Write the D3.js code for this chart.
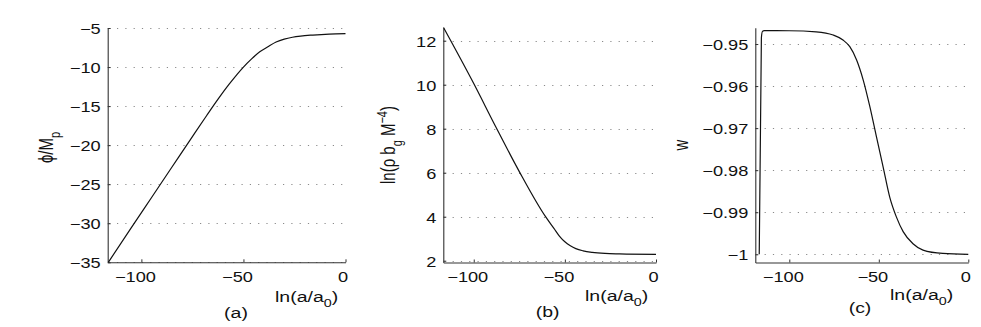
<!DOCTYPE html>
<html>
<head>
<meta charset="utf-8">
<script src="https://cdn.jsdelivr.net/npm/d3@7"></script>
<style>
  html, body { margin: 0; padding: 0; background: #fff; }
  svg { display: block; }
  text { font-family: "Liberation Sans", Arial, Helvetica, sans-serif; fill: #111; }
</style>
</head>
<body>
<svg id="chart" width="981" height="327"></svg>
<script>
// ---------- data ----------
const xTicks = [-100, -50, 0];
const xTickLabels = ["\u2212100", "\u221250", "0"];

// (a) phi / M_p vs ln(a/a0)
const lnA_a = [-116.2, -105, -95, -85, -75, -68, -62, -57, -53, -50, -46, -42, -38, -34, -30, -26, -22, -16, -8, 0];
const phi   = [-35, -30.6, -26.7, -22.8, -18.9, -16.2, -13.95, -12.2, -10.9, -10.0, -8.95, -8.05, -7.4, -6.8, -6.42, -6.18, -6.03, -5.9, -5.78, -5.73];
const yTicksA = [-35, -30, -25, -20, -15, -10, -5];
const yTickLabelsA = ["\u221235", "\u221230", "\u221225", "\u221220", "\u221215", "\u221210", "\u22125"];

// (b) ln(rho b_g M^-4) vs ln(a/a0)
const lnA_b = [-116.6, -100, -88, -75, -60.6, -56, -53, -50, -47, -44, -40, -35, -28, -20, 0];
const lnRho = [12.6, 10.05, 8.1, 6.05, 4.0, 3.47, 3.12, 2.86, 2.68, 2.55, 2.45, 2.38, 2.33, 2.31, 2.29];
const yTicksB = [2, 4, 6, 8, 10, 12];
const yTickLabelsB = ["2", "4", "6", "8", "10", "12"];

// (c) w vs ln(a/a0)
const lnA_c = [-116.8, -115.6, -115.0, -114.0, -100, -85, -75.5, -70, -66.2, -62.4, -58.7, -55, -51.3, -47.6, -43.9, -40.2, -36.4, -30.9, -25.3, -14.2, 0];
const wVals = [-1.0, -0.9485, -0.9470, -0.94683, -0.94685, -0.9471, -0.94786, -0.94905, -0.95064, -0.9538, -0.95857, -0.9649, -0.9721, -0.9792, -0.9864, -0.9911, -0.9946, -0.9975, -0.999, -0.9998, -1.0];
const yTicksC = [-1, -0.99, -0.98, -0.97, -0.96, -0.95];
const yTickLabelsC = ["\u22121", "\u22120.99", "\u22120.98", "\u22120.97", "\u22120.96", "\u22120.95"];

// ---------- layout ----------
const SX = 1.3; // horizontal stretch of the text in the original figure
const svg = d3.select("#chart");

const panels = [
  { xs: lnA_a, ys: phi, xDomain: [-116.5, 0], xRange: [107.7, 345.5],
    yDomain: [-35, -5], yRange: [262.3, 28.0],
    yTicks: yTicksA, yLabels: yTickLabelsA,
    xlabX: 275, xlabY: 301.5, capX: 236, capY: 318, cap: "(a)",
    ylabX: 53, ylabY: 147.5, ylab: "a" },
  { xs: lnA_b, ys: lnRho, xDomain: [-116.7, 0], xRange: [443.3, 656],
    yDomain: [1.918, 12.59], yRange: [262.5, 27.7],
    yTicks: yTicksB, yLabels: yTickLabelsB,
    xlabX: 585, xlabY: 301, capX: 547.7, capY: 316.5, cap: "(b)",
    ylabX: 395, ylabY: 145, ylab: "b" },
  { xs: lnA_c, ys: wVals, xDomain: [-119, 0], xRange: [755.3, 968.3],
    yDomain: [-1.00195, -0.94612], yRange: [262.5, 27.7],
    yTicks: yTicksC, yLabels: yTickLabelsC,
    xlabX: 890, xlabY: 300, capX: 860, capY: 313, cap: "(c)",
    ylabX: 688, ylabY: 145, ylab: "c" }
];

panels.forEach(p => {
  const x = d3.scaleLinear().domain(p.xDomain).range(p.xRange);
  const y = d3.scaleLinear().domain(p.yDomain).range(p.yRange);
  const g = svg.append("g");
  const x0 = p.xRange[0], x1 = p.xRange[1];
  const yb = p.yRange[0];

  // dotted grid
  g.append("g").selectAll("line").data(p.yTicks).join("line")
    .attr("x1", x0 + 1).attr("x2", x1)
    .attr("y1", d => Math.round(y(d)) + 0.5).attr("y2", d => Math.round(y(d)) + 0.5)
    .attr("stroke", "#8a8a8a").attr("stroke-width", 1)
    .attr("stroke-dasharray", "1.2,7.1");

  // axes
  const xAxis = d3.axisBottom(x).tickValues(xTicks).tickSizeInner(-3).tickSizeOuter(0).tickFormat("");
  const yAxis = d3.axisLeft(y).tickValues(p.yTicks).tickSizeInner(-3).tickSizeOuter(0).tickFormat("");
  const gx = g.append("g").attr("transform", `translate(0,${yb})`).call(xAxis);
  const gy = g.append("g").attr("transform", `translate(${x0},0)`).call(yAxis);
  [gx, gy].forEach(a => {
    a.selectAll("path").attr("stroke", "#333").attr("stroke-width", 1.1);
    a.selectAll("line").attr("stroke", "#333");
  });

  // x tick labels
  g.append("g").selectAll("text").data(xTicks).join("text")
    .attr("transform", (d) => `translate(${x(d) + (d < 0 ? -6 : -2.5)},281.7) scale(${SX},1)`)
    .attr("text-anchor", "middle").attr("font-size", 14)
    .text((d, i) => xTickLabels[i]);

  // y tick labels
  g.append("g").selectAll("text").data(p.yTicks).join("text")
    .attr("transform", (d) => `translate(${x0 - 7},${y(d) + 6}) scale(${SX},1)`)
    .attr("text-anchor", "end").attr("font-size", 14)
    .text((d, i) => p.yLabels[i]);

  // curve
  const line = d3.line().x(d => x(d[0])).y(d => y(d[1])).curve(d3.curveMonotoneX);
  g.append("path").datum(d3.zip(p.xs, p.ys))
    .attr("d", line).attr("fill", "none")
    .attr("stroke", "#111").attr("stroke-width", 1.2);

  // x label ln(a/a0)
  const xl = g.append("text")
    .attr("transform", `translate(${p.xlabX},${p.xlabY}) scale(${SX},1)`)
    .attr("font-size", 15);
  xl.append("tspan").text("ln(a/a");
  xl.append("tspan").attr("font-size", 11).attr("dy", 5).text("0");
  xl.append("tspan").attr("dy", -5).text(")");

  // caption
  g.append("text")
    .attr("transform", `translate(${p.capX},${p.capY}) scale(${SX},1)`)
    .attr("text-anchor", "middle").attr("font-size", 15)
    .text(p.cap);

  // y label (rotated)
  const yl = g.append("text")
    .attr("transform", `translate(${p.ylabX},${p.ylabY}) scale(${SX},1) rotate(-90)`)
    .attr("text-anchor", "middle").attr("font-size", 15);
  if (p.ylab === "a") {
    yl.append("tspan").text("\u03d5/M");
    yl.append("tspan").attr("font-size", 11).attr("dy", 5).text("p");
  } else if (p.ylab === "b") {
    yl.append("tspan").text("ln(\u03c1 b");
    yl.append("tspan").attr("font-size", 11).attr("dy", 5).text("g");
    yl.append("tspan").attr("dy", -5).text(" M");
    yl.append("tspan").attr("font-size", 11).attr("dy", -6).text("\u22124");
    yl.append("tspan").attr("dy", 6).text(")");
  } else {
    yl.text("w");
  }
});
</script>
</body>
</html>
